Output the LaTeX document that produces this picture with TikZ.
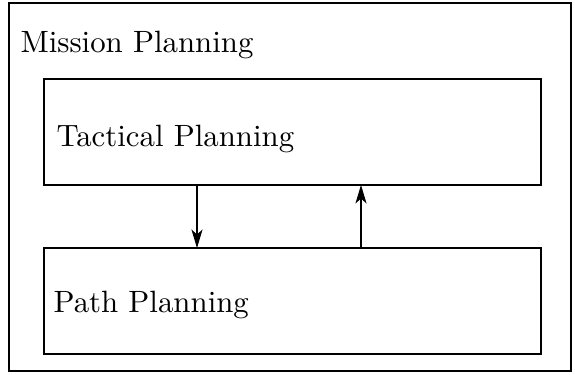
\documentclass[tikz,border=0pt]{standalone}
\usetikzlibrary{arrows.meta}
\begin{document}
\begin{tikzpicture}[x=0.3245pt,y=-0.3245pt,
  box/.style={draw,line width=0.35pt},
  lbl/.style={anchor=base west,inner sep=0pt,font=\normalsize},
  arr/.style={draw,line width=0.35pt,-{Stealth[length=6pt,width=3.6pt,inset=1.6pt]}}]
\useasboundingbox (0,0) rectangle (575,374);
\draw[box] (9,3) rectangle (571,371);
\node[lbl] (mission) at (20,52) {Mission Planning};
\draw[box] (44,79) rectangle (541,185);
\node[lbl] (tactical) at (56,146) {Tactical Planning};
\draw[box] (44,248) rectangle (541,354);
\node[lbl] (path) at (53,312) {Path Planning};
\coordinate (d1) at (197,185);
\coordinate (d2) at (197,248);
\coordinate (u1) at (361,248);
\coordinate (u2) at (361,185);
\draw[arr] (d1) -- (d2);
\draw[arr] (u1) -- (u2);
\end{tikzpicture}
\end{document}
